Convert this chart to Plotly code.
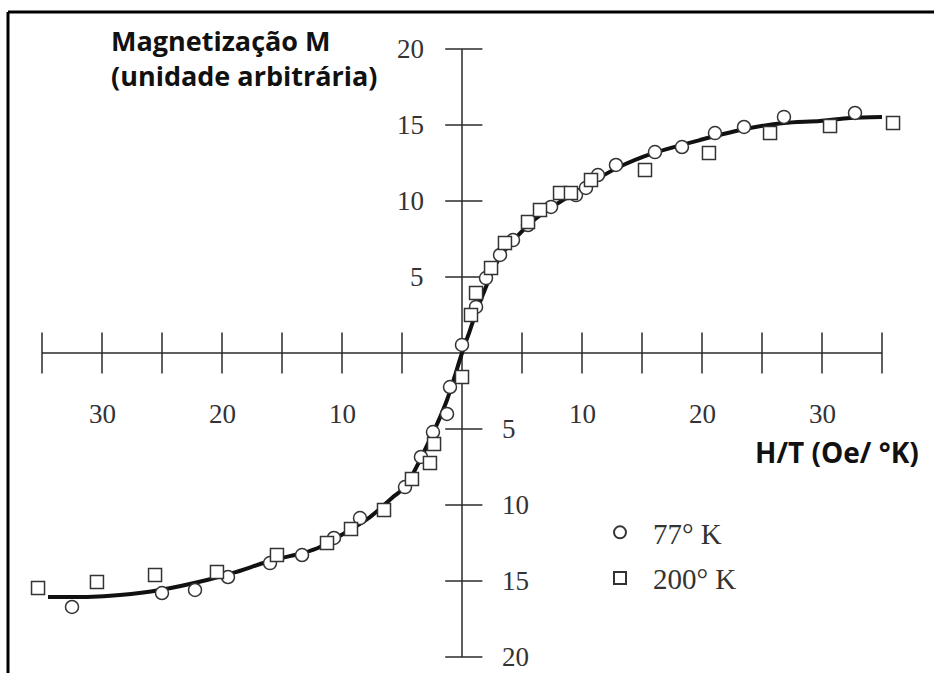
import plotly.graph_objects as go

# ---------------- data ----------------
# 77 K (circles)
k77_x = [0.0, 1.17, 2.0, 3.17, 4.25, 5.5, 7.42, 9.5, 10.33, 11.33, 12.83, 16.08, 18.33, 21.08, 23.5, 26.83, 32.75,
         -1.0, -1.25, -2.42, -3.42, -4.75, -8.5, -10.67, -13.33, -16.0, -19.5, -22.25, -25.0, -32.5]
k77_y = [0.53, 3.03, 4.93, 6.45, 7.43, 8.42, 9.61, 10.39, 10.86, 11.71, 12.37, 13.22, 13.55, 14.47, 14.87, 15.53, 15.79,
         -2.24, -4.01, -5.2, -6.84, -8.82, -10.86, -12.17, -13.29, -13.82, -14.74, -15.59, -15.79, -16.71]

# 200 K (squares)
k200_x = [0.75, 1.17, 2.42, 3.58, 5.5, 6.5, 8.17, 9.08, 10.75, 15.25, 20.58, 25.67, 30.67, 35.92,
          0.0, -2.33, -2.67, -4.17, -6.5, -9.25, -11.25, -15.42, -20.42, -25.58, -30.42, -35.33]
k200_y = [2.5, 3.95, 5.59, 7.24, 8.62, 9.41, 10.53, 10.53, 11.38, 12.04, 13.16, 14.47, 14.93, 15.13,
          -1.58, -5.99, -7.24, -8.29, -10.33, -11.58, -12.5, -13.29, -14.41, -14.61, -15.07, -15.46]

# fitted curve
curve_x = [-34.5, -31.25, -28.5, -25.17, -21.25, -19.08, -15.75, -13.25, -11.83, -7.67, -5.75, -4.75, -2.42, -1.25,
           0.0, 0.67, 1.25, 3.17, 6.0, 10.17, 12.92, 16.0, 19.83, 24.0, 26.83, 29.83, 32.33, 35.0]
curve_y = [-16.05, -16.05, -15.92, -15.59, -14.93, -14.47, -13.62, -13.16, -12.76, -10.79, -9.47, -8.82, -5.26, -3.09,
           0.0, 1.51, 2.83, 6.32, 8.75, 10.92, 12.17, 13.16, 14.01, 14.80, 15.13, 15.26, 15.46, 15.53]

x_ticks = [-35, -30, -25, -20, -15, -10, -5, 5, 10, 15, 20, 25, 30, 35]
x_tick_labels = {-30: "30", -20: "20", -10: "10", 10: "10", 20: "20", 30: "30"}
y_ticks = [20, 15, 10, 5, -5, -10, -15, -20]
y_tick_labels = {20: "20", 15: "15", 10: "10", 5: "5", -5: "5", -10: "10", -15: "15", -20: "20"}

# ---------------- layout geometry ----------------
W, H = 934, 673
X0_PX, X_SCALE = 462, 12.0      # pixel of x=0, px per unit
Y0_PX, Y_SCALE = 353, 15.2      # pixel of y=0, px per unit
x_range = [-X0_PX / X_SCALE, (W - X0_PX) / X_SCALE]
y_range = [-(H - Y0_PX) / Y_SCALE, Y0_PX / Y_SCALE]


def px(x):
    return x / W


def py(y):
    return 1 - y / H


AX_COLOR = "#2a2a2a"
SERIF = "Liberation Serif"
SANS = "Open Sans"

fig = go.Figure()

# axis lines
fig.add_trace(go.Scatter(
    x=[min(x_ticks), max(x_ticks), None, 0, 0],
    y=[0, 0, None, min(y_ticks), max(y_ticks)],
    mode="lines", line=dict(color=AX_COLOR, width=1.5),
    showlegend=False, hoverinfo="skip"))

# tick marks
tx, ty = [], []
for t in x_ticks:
    tx += [t, t, None]
    ty += [-1.35, 1.35, None]
for t in y_ticks:
    tx += [-1.4, 1.7, None]
    ty += [t, t, None]
fig.add_trace(go.Scatter(x=tx, y=ty, mode="lines", line=dict(color=AX_COLOR, width=1.5),
                         showlegend=False, hoverinfo="skip"))

# curve
fig.add_trace(go.Scatter(x=curve_x, y=curve_y, mode="lines",
                         line=dict(color="#111111", width=4, shape="spline", smoothing=0.8),
                         showlegend=False, hoverinfo="skip"))

# data points
fig.add_trace(go.Scatter(x=k77_x, y=k77_y, mode="markers", name="77° K", legendgroup="a",
                         marker=dict(symbol="circle", size=13, color="white",
                                     line=dict(color="#333333", width=1.5))))
fig.add_trace(go.Scatter(x=k200_x, y=k200_y, mode="markers", name="200° K", legendgroup="b",
                         marker=dict(symbol="square", size=13, color="white",
                                     line=dict(color="#333333", width=1.5))))

annotations = []
for t, lab in x_tick_labels.items():
    annotations.append(dict(x=t, y=-4.0, xref="x", yref="y", text=lab, showarrow=False,
                            xanchor="center", yanchor="middle",
                            font=dict(family=SERIF, size=27, color="#333333")))
for t, lab in y_tick_labels.items():
    if t > 0:
        annotations.append(dict(x=-3.0, y=t, xref="x", yref="y", text=lab, showarrow=False,
                                xanchor="right", yanchor="middle",
                                font=dict(family=SERIF, size=27, color="#333333")))
    else:
        annotations.append(dict(x=3.2, y=t, xref="x", yref="y", text=lab, showarrow=False,
                                xanchor="left", yanchor="middle",
                                font=dict(family=SERIF, size=27, color="#333333")))

annotations.append(dict(x=px(109), y=py(58), xref="paper", yref="paper",
                        text="<b>Magnetização M<br>(unidade arbitrária)</b>", align="left",
                        showarrow=False, xanchor="left", yanchor="middle",
                        font=dict(family=SANS, size=27, color="#111111")))
annotations.append(dict(x=px(921), y=py(452), xref="paper", yref="paper",
                        text="<b>H/T (Oe/ °K)</b>", showarrow=False, xanchor="right", yanchor="middle",
                        font=dict(family=SANS, size=28, color="#111111")))

fig.update_layout(
    width=W, height=H,
    margin=dict(l=0, r=0, t=0, b=0),
    paper_bgcolor="white", plot_bgcolor="white",
    xaxis=dict(range=x_range, visible=False, fixedrange=True),
    yaxis=dict(range=y_range, visible=False, fixedrange=True),
    annotations=annotations,
    legend=dict(x=px(587), y=py(507), xanchor="left", yanchor="top",
                font=dict(family=SERIF, size=29, color="#333333"),
                bgcolor="rgba(0,0,0,0)", itemwidth=56, tracegroupgap=5,
                traceorder="grouped", itemsizing="constant"),
    shapes=[
        dict(type="line", xref="paper", yref="paper", x0=px(8), x1=1.01, y0=py(12), y1=py(12),
             line=dict(color="black", width=3)),
        dict(type="line", xref="paper", yref="paper", x0=px(8), x1=px(8), y0=py(12), y1=-0.01,
             line=dict(color="black", width=3)),
    ],
)

fig.write_html("out.html")
